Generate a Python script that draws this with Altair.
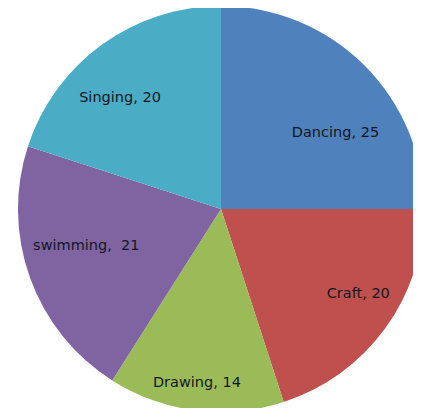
import altair as alt
import pandas as pd

categories = ["Dancing", "Craft", "Drawing", "swimming", "Singing"]
values = [25, 20, 14, 21, 20]
labels = ["Dancing, 25", "Craft, 20", "Drawing, 14", "swimming,\u00a0 21", "Singing, 20"]
colors = ["#4F81BD", "#C0504D", "#9BBB59", "#8064A2", "#4BACC6"]

df = pd.DataFrame({
    "category": categories,
    "value": values,
    "label": labels,
    "idx": list(range(len(categories))),
})

CX, CY, R = 213, 201, 203

base = alt.Chart(df).encode(
    theta=alt.Theta("value:Q", stack=True),
    order=alt.Order("idx:Q"),
    x=alt.value(CX),
    y=alt.value(CY),
)

pie = base.mark_arc(outerRadius=R, stroke=None).encode(
    color=alt.Color("category:N", scale=alt.Scale(domain=categories, range=colors), legend=None)
)

# label placement (style): radius, dx, dy per slice
placement = [(135, 19, 19), (161, 7, -10), (176, -2, -1), (140, -3, -10), (148, -14, 9)]

layers = [pie]
for i, (r, dx, dy) in enumerate(placement):
    layers.append(
        base.mark_text(radius=r, dx=dx, dy=dy, font="DejaVu Sans", fontSize=14.5,
                       color="#141722", align="center", baseline="middle").encode(
            text=alt.condition(f"datum.idx == {i}", "label:N", alt.value(""))
        )
    )

chart = alt.layer(*layers).properties(
    width=405, height=400,
    autosize=alt.AutoSizeParams(type="none"),
    padding=0,
).configure_view(stroke=None)

chart.save("out.html", embed_options={"renderer": "svg", "actions": False})
